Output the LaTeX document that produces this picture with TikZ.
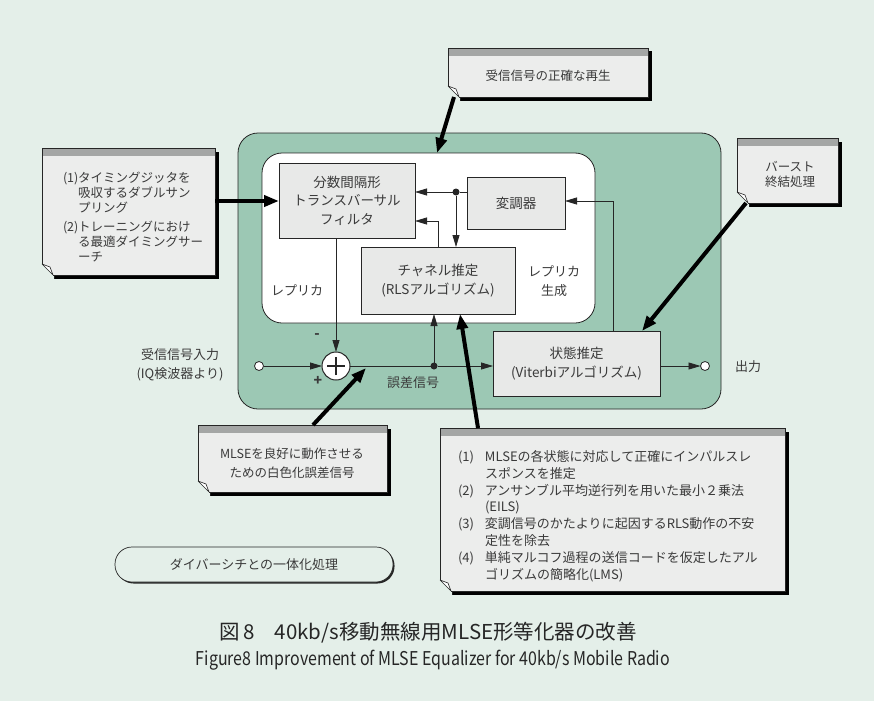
\documentclass[tikz,border=0pt]{standalone}
\usepackage{fontspec}
\setmainfont{Noto Sans CJK JP}
\usetikzlibrary{arrows.meta,shadows,calc}
\definecolor{bgc}{HTML}{E4EFE9}
\definecolor{greenc}{HTML}{9CC8B4}
\definecolor{boxc}{HTML}{E8E9E8}
\definecolor{notec}{HTML}{ECEDEC}
\definecolor{bandc}{HTML}{A4A6A5}
\definecolor{linec}{HTML}{262626}
\definecolor{textc}{HTML}{3A3A3A}
\newcommand\foldc[1]{%
  \fill[bgc] ([shift={(-1.5pt,-5pt)}]#1.south west) -- ([shift={(12pt,-5pt)}]#1.south west) -- ([shift={(12pt,0pt)}]#1.south west) -- ([shift={(0pt,11pt)}]#1.south west) -- ([shift={(-1.5pt,11pt)}]#1.south west) -- cycle;
  \filldraw[fill=white,draw=linec,line width=0.6pt,line join=round] ([xshift=11pt]#1.south west) -- ([yshift=11pt]#1.south west) -- ([shift={(8pt,8pt)}]#1.south west) -- cycle;
  \draw[linec,line width=0.6pt] ([yshift=11pt]#1.south west) -- ([yshift=-0.3pt]#1.north west);
  \draw[linec,line width=0.6pt] ([xshift=11pt]#1.south west) -- ([xshift=-0.3pt]#1.south east);
}
\begin{document}
\begin{tikzpicture}[x=1pt,y=-1pt,
  every node/.style={inner sep=0pt,outer sep=0pt,text=textc},
  cont/.style={draw=linec,line width=0.8pt,rounded corners=20pt},
  blk/.style={draw=linec,line width=0.8pt,fill=boxc,align=center,font=\fontsize{13.5}{18.5}\selectfont},
  note/.style={fill=notec,draw=linec,line width=0.6pt,
    drop shadow={shadow xshift=3.5pt,shadow yshift=-3.5pt,opacity=1,fill=black},
    path picture={\fill[bandc] (path picture bounding box.north west) rectangle ([yshift=-8pt]path picture bounding box.north east);}},
  notetxt/.style={align=left,font=\fontsize{12.5}{15}\selectfont},
  lbl/.style={align=center,font=\fontsize{13}{19}\selectfont},
  arr/.style={draw=linec,line width=0.8pt,-{Triangle[length=12pt,width=7pt]}},
  ln/.style={draw=linec,line width=0.8pt},
  fat/.style={draw=black,line width=4pt,-{Triangle[length=15pt,width=11pt]}},
  dot/.style={circle,fill=linec,minimum size=7pt},
  port/.style={circle,draw=linec,line width=0.8pt,fill=white,minimum size=9pt}]
\useasboundingbox (0,0) rectangle (874,701);
\fill[bgc] (0,0) rectangle (874,701);

% containers
\node[cont,fill=greenc,minimum width=483,minimum height=276] (outer) at (479.5,271) {};
\node[cont,fill=white,minimum width=333,minimum height=170] (inner) at (428.5,238) {};

% blocks
\node[blk,minimum width=136,minimum height=75] (filt) at (347,200.5) {分数間隔形\\トランスバーサル\\フィルタ};
\node[blk,minimum width=98,minimum height=52] (mod) at (516,203) {変調器};
\node[blk,minimum width=154,minimum height=67] (chan) at (438,280.5) {チャネル推定\\(RLSアルゴリズム)};
\node[blk,minimum width=167,minimum height=65] (vit) at (576.5,363.5) {状態推定\\(Viterbiアルゴリズム)};

\node[circle,draw=linec,line width=1pt,fill=white,minimum size=28pt] (add) at (336,366) {};
\draw[linec,line width=1.6pt] ([xshift=-9pt]add.center) -- ([xshift=9pt]add.center) ([yshift=-9pt]add.center) -- ([yshift=9pt]add.center);
\node[port] (in) at (259,366) {};
\node[port] (out) at (705,366) {};
\node[dot] (d1) at (456,192) {};
\node[dot] (d2) at (434,366) {};

% connectors
\draw[arr] (d1) -- (d1 -| filt.east);
\draw[ln] (d1) -- (d1 -| mod.west);
\draw[arr] (d1) -- (d1 |- chan.north);
\draw[arr] (chan.north) -- (438,221) -- (filt.east |- 0,221);
\draw[arr] (add |- filt.south) -- (add.north);
\draw[arr] (in) -- (add.west);
\draw[ln] (add.east) -- (d2);
\draw[arr] (d2) -- (vit.west |- d2);
\draw[arr] (d2) -- (d2 |- chan.south);
\draw[arr] (vit.east |- out) -- (out.west);
\coordinate (v1) at (613,331);
\draw[arr] (v1) -- (613,201) -- (mod.east |- 0,201);

% labels
\node[lbl] (l1) at (297,290) {レプリカ};
\node[lbl] (l2) at (554,281) {レプリカ\\生成};
\node[lbl] (l3) at (413,383) {誤差信号};
\node[font=\fontsize{14}{14}\selectfont\bfseries] (mi) at (317,336) {-};
\node[font=\fontsize{14}{14}\selectfont\bfseries] (pl) at (318,381) {+};
\node[lbl] (l4) at (180,365) {受信信号入力\\(IQ検波器より)};
\node[lbl] (l5) at (748,367) {出力};

% notes
\node[note,minimum width=173,minimum height=127] (n1) at (128.5,211.5) {};
\foldc{n1}
\node[notetxt,anchor=north west] (t1) at (63,171.5) {%
\makebox[15pt][l]{(1)}タイミングジッタを\\
\hspace*{15pt}吸収するダブルサン\\
\hspace*{15pt}プリング\\[4pt]
\makebox[15pt][l]{(2)}トレーニングにおけ\\
\hspace*{15pt}る最適ダイミングサー\\
\hspace*{15pt}ーチ};

\node[note,minimum width=200,minimum height=49] (n2) at (548,72.5) {};
\foldc{n2}
\node[notetxt] (t2) at (548,76) {受信信号の正確な再生};

\node[note,minimum width=101,minimum height=65] (n3) at (787.5,170.5) {};
\foldc{n3}
\node[notetxt,align=center] (t3) at (790,174) {バースト\\終結処理};

\node[note,minimum width=189,minimum height=67] (n4) at (292.5,458.5) {};
\foldc{n4}
\node[notetxt,align=center,font=\fontsize{12.5}{19}\selectfont] (t4) at (292,463) {MLSEを良好に動作させる\\ための白色化誤差信号};

\node[note,minimum width=345,minimum height=163] (n5) at (612.5,509.5) {};
\foldc{n5}
\node[notetxt,anchor=north west,font=\fontsize{13}{16.8}\selectfont] (t5) at (458,450.5) {%
\makebox[27pt][l]{(1)}MLSEの各状態に対応して正確にインパルスレ\\
\hspace*{27pt}スポンスを推定\\
\makebox[27pt][l]{(2)}アンサンブル平均逆行列を用いた最小２乗法\\
\hspace*{27pt}(EILS)\\
\makebox[27pt][l]{(3)}変調信号のかたよりに起因するRLS動作の不安\\
\hspace*{27pt}定性を除去\\
\makebox[27pt][l]{(4)}単純マルコフ過程の送信コードを仮定したアル\\
\hspace*{27pt}ゴリズムの簡略化(LMS)};

% pill
\node[draw=linec,line width=0.7pt,fill=bgc,rounded corners=17pt,minimum width=278,minimum height=35,
  drop shadow={shadow xshift=1.5pt,shadow yshift=-1.5pt,opacity=1,fill=linec},
  font=\fontsize{13}{15}\selectfont] (pill) at (254,564.5) {ダイバーシチとの一体化処理};

% thick arrows
\draw[fat] (n1.east |- 0,201) -- (filt.west |- 0,201);
\draw[fat] ([xshift=6pt]n2.south west) -- (inner.north -| 437,0);
\draw[fat] ([xshift=9pt]n3.south west) -- (vit.north -| 642,0);
\draw[fat] (n4.north -| 313,0) -- (366,368);
\draw[fat] (n5.north -| 478,0) -- (chan.south -| 460,0);

% caption
\node[font=\fontsize{20.5}{22}\selectfont,text=black!85] (cap1) at (428,633) {図\,8\quad 40kb/s移動無線用MLSE形等化器の改善};
\node[font=\fontsize{19}{22}\selectfont,text=black!85] (cap2) at (433,660) {\scalebox{0.84}[1]{Figure8 Improvement of MLSE Equalizer for 40kb/s Mobile Radio}};
\end{tikzpicture}
\end{document}
